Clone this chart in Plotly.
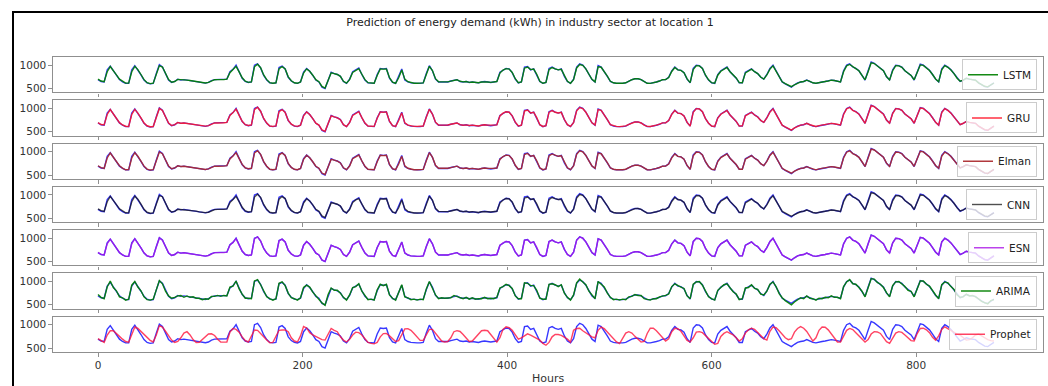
import plotly.graph_objects as go
from plotly.subplots import make_subplots

# sampling grid (hours, every 3 h)
hours = list(range(0, 877, 3))

actual = [
    690, 650, 640, 900, 980, 880, 780, 690,
    640, 610, 610, 900, 990, 900, 790, 680,
    620, 600, 610, 820, 1010, 960, 800, 680,
    630, 650, 700, 680, 690, 680, 670, 660,
    650, 630, 620, 615, 630, 670, 690, 690,
    685, 690, 700, 860, 910, 1000, 850, 720,
    650, 630, 640, 1000, 1030, 940, 780, 680,
    620, 610, 620, 950, 980, 920, 740, 660,
    620, 610, 640, 850, 930, 870, 780, 680,
    640, 530, 500, 700, 850, 820, 800, 760,
    650, 610, 700, 860, 900, 940, 800, 680,
    620, 610, 610, 800, 930, 920, 930, 720,
    630, 610, 750, 920, 680, 640, 620, 610,
    610, 610, 620, 820, 990, 880, 700, 640,
    640, 650, 640, 660, 680, 690, 650, 640,
    650, 630, 640, 630, 620, 640, 650, 640,
    630, 640, 650, 850, 900, 930, 920, 840,
    700, 620, 640, 960, 970, 900, 920, 800,
    650, 610, 630, 930, 960, 920, 900, 920,
    760, 650, 610, 700, 960, 1030, 1000, 920,
    800, 690, 640, 990, 960, 870, 760, 650,
    620, 610, 605, 610, 620, 660, 690, 710,
    710, 690, 640, 610, 610, 620, 640, 660,
    690, 690, 740, 880, 960, 900, 890, 840,
    700, 620, 930, 1000, 990, 930, 780, 680,
    620, 610, 800, 880, 920, 960, 860, 790,
    720, 620, 620, 850, 880, 920, 860, 820,
    740, 700, 800, 930, 1000, 880, 750, 640,
    600, 560, 530, 580, 620, 640, 650, 680,
    650, 620, 610, 630, 640, 650, 660, 680,
    670, 650, 640, 880, 1000, 1030, 960, 930,
    880, 780, 680, 880, 1070, 1040, 990, 930,
    880, 750, 680, 900, 1000, 990, 960, 880,
    820, 780, 680, 850, 1020, 1000, 950, 890,
    800, 700, 640, 920, 1000, 960, 900, 820,
    720, 650, 680, 720, 700, 690, 680, 620,
    580, 540, 530, 580, 620,
]

lstm_pred = [
    700, 660, 645, 860, 970, 890, 790, 700,
    650, 615, 615, 860, 975, 905, 800, 690,
    625, 605, 615, 790, 990, 960, 810, 690,
    635, 650, 695, 685, 690, 680, 672, 662,
    652, 635, 622, 618, 630, 665, 688, 690,
    686, 690, 700, 840, 905, 975, 855, 730,
    655, 632, 642, 965, 1020, 945, 790, 690,
    625, 612, 622, 920, 970, 920, 750, 665,
    622, 612, 640, 830, 920, 870, 785, 690,
    645, 545, 510, 680, 835, 820, 800, 760,
    655, 615, 690, 845, 895, 925, 805, 690,
    625, 612, 612, 780, 920, 915, 920, 730,
    635, 612, 730, 895, 700, 645, 622, 612,
    612, 610, 620, 800, 975, 885, 710, 645,
    640, 650, 642, 658, 678, 688, 655, 642,
    650, 632, 640, 632, 622, 640, 648, 640,
    632, 640, 650, 830, 895, 925, 915, 845,
    710, 625, 640, 935, 960, 905, 915, 805,
    655, 612, 630, 905, 950, 920, 900, 910,
    765, 655, 612, 690, 940, 1015, 995, 920,
    805, 695, 642, 965, 955, 870, 765, 655,
    622, 612, 608, 612, 622, 658, 688, 708,
    708, 690, 645, 612, 610, 620, 640, 660,
    688, 690, 735, 865, 950, 900, 888, 840,
    705, 625, 905, 990, 985, 930, 785, 685,
    625, 612, 785, 870, 915, 950, 860, 790,
    725, 625, 622, 835, 875, 915, 860, 820,
    745, 700, 790, 915, 985, 880, 755, 645,
    605, 565, 540, 580, 618, 640, 650, 678,
    652, 622, 612, 630, 640, 650, 660, 678,
    670, 652, 642, 860, 985, 1015, 960, 925,
    880, 785, 685, 860, 1050, 1035, 985, 925,
    880, 755, 685, 880, 990, 985, 955, 880,
    820, 780, 688, 835, 1005, 995, 945, 885,
    800, 705, 645, 900, 990, 955, 895, 820,
    720, 655, 680, 718, 700, 690, 678, 622,
    585, 548, 535, 578, 618,
]

gru_pred = [
    695, 655, 648, 870, 975, 885, 785, 695,
    645, 618, 612, 870, 980, 900, 795, 688,
    628, 608, 612, 800, 1000, 955, 805, 688,
    632, 652, 698, 682, 688, 678, 670, 660,
    650, 632, 625, 620, 632, 668, 690, 688,
    684, 692, 702, 850, 910, 985, 850, 725,
    652, 635, 645, 975, 1025, 940, 785, 685,
    622, 615, 625, 930, 975, 915, 745, 662,
    625, 615, 642, 840, 925, 868, 782, 685,
    642, 540, 508, 690, 840, 818, 798, 758,
    652, 612, 695, 850, 898, 930, 802, 685,
    622, 615, 615, 790, 925, 918, 925, 725,
    632, 615, 740, 905, 690, 642, 625, 615,
    615, 612, 622, 810, 980, 880, 705, 642,
    642, 648, 645, 660, 680, 688, 652, 640,
    648, 635, 642, 635, 625, 638, 650, 642,
    635, 642, 648, 840, 898, 928, 918, 842,
    705, 622, 642, 945, 965, 902, 918, 802,
    652, 615, 632, 915, 955, 918, 902, 915,
    762, 652, 615, 695, 950, 1020, 998, 918,
    802, 692, 645, 975, 958, 868, 762, 652,
    625, 615, 610, 615, 625, 660, 688, 708,
    710, 688, 642, 615, 612, 622, 642, 662,
    690, 692, 738, 872, 955, 898, 888, 838,
    702, 622, 915, 995, 988, 928, 782, 682,
    622, 615, 792, 875, 918, 955, 858, 788,
    722, 622, 625, 842, 878, 918, 858, 818,
    742, 702, 795, 922, 990, 878, 752, 642,
    602, 562, 535, 582, 620, 642, 652, 680,
    650, 625, 612, 632, 642, 652, 662, 680,
    672, 652, 645, 870, 990, 1020, 958, 928,
    878, 782, 682, 870, 1058, 1038, 988, 928,
    878, 752, 682, 890, 995, 988, 958, 878,
    818, 778, 685, 842, 1010, 998, 948, 888,
    798, 702, 642, 910, 995, 958, 898, 818,
    718, 652, 682, 720, 702, 692, 680, 622,
    582, 545, 532, 580, 620,
]

elman_pred = [
    698, 658, 642, 865, 972, 888, 788, 698,
    648, 612, 614, 865, 978, 902, 798, 690,
    626, 606, 614, 795, 995, 958, 808, 690,
    634, 651, 696, 684, 689, 679, 671, 661,
    651, 634, 623, 619, 631, 666, 689, 689,
    685, 691, 701, 845, 908, 980, 852, 728,
    654, 634, 644, 970, 1022, 942, 788, 688,
    624, 614, 624, 925, 972, 918, 748, 664,
    624, 614, 641, 835, 922, 869, 784, 688,
    644, 542, 509, 685, 838, 819, 799, 759,
    654, 614, 692, 848, 896, 928, 804, 688,
    624, 614, 614, 785, 922, 916, 922, 728,
    634, 614, 735, 900, 695, 644, 624, 614,
    614, 611, 621, 805, 978, 882, 708, 644,
    641, 649, 644, 659, 679, 689, 654, 641,
    649, 634, 641, 634, 624, 639, 649, 641,
    634, 641, 649, 835, 896, 926, 916, 844,
    708, 624, 641, 940, 962, 904, 916, 804,
    654, 614, 631, 910, 952, 919, 901, 912,
    764, 654, 614, 692, 945, 1018, 996, 919,
    804, 694, 644, 970, 956, 869, 764, 654,
    624, 614, 609, 614, 624, 659, 689, 709,
    709, 689, 644, 614, 611, 621, 641, 661,
    689, 691, 736, 868, 952, 899, 889, 839,
    704, 624, 910, 992, 986, 929, 784, 684,
    624, 614, 788, 872, 916, 952, 859, 789,
    724, 624, 624, 838, 876, 916, 859, 819,
    744, 701, 792, 918, 988, 879, 754, 644,
    604, 564, 538, 581, 619, 641, 651, 679,
    651, 624, 611, 631, 641, 651, 661, 679,
    671, 651, 644, 865, 988, 1018, 959, 926,
    879, 784, 684, 865, 1054, 1036, 986, 926,
    879, 754, 684, 885, 992, 986, 956, 879,
    819, 779, 686, 838, 1008, 996, 946, 886,
    799, 704, 644, 905, 992, 956, 896, 819,
    719, 654, 681, 719, 701, 691, 679, 621,
    584, 546, 534, 579, 619,
]

cnn_pred = [
    702, 662, 646, 855, 968, 892, 792, 702,
    652, 618, 616, 855, 972, 908, 802, 692,
    628, 608, 616, 785, 985, 962, 812, 692,
    636, 648, 692, 686, 690, 681, 673, 663,
    653, 636, 624, 620, 629, 662, 686, 691,
    686, 690, 699, 835, 902, 970, 858, 735,
    658, 634, 643, 955, 1015, 948, 795, 692,
    628, 614, 623, 910, 965, 922, 755, 668,
    625, 614, 640, 825, 918, 872, 788, 692,
    648, 550, 515, 675, 830, 822, 801, 762,
    658, 618, 688, 840, 892, 922, 808, 692,
    628, 614, 613, 775, 915, 914, 918, 735,
    638, 614, 725, 890, 705, 648, 624, 614,
    614, 611, 621, 795, 970, 888, 712, 648,
    642, 650, 643, 657, 677, 687, 656, 643,
    651, 633, 641, 633, 623, 639, 648, 641,
    633, 640, 649, 825, 892, 922, 914, 848,
    712, 626, 641, 930, 955, 908, 912, 808,
    658, 614, 630, 900, 945, 921, 902, 908,
    768, 658, 614, 688, 935, 1010, 992, 922,
    808, 698, 644, 960, 952, 872, 768, 658,
    624, 614, 609, 613, 623, 657, 687, 707,
    709, 691, 646, 614, 611, 621, 640, 659,
    687, 690, 732, 860, 945, 902, 888, 842,
    708, 626, 900, 985, 982, 932, 788, 688,
    626, 614, 780, 865, 912, 948, 862, 792,
    728, 626, 623, 830, 872, 912, 862, 822,
    748, 702, 785, 910, 980, 882, 758, 648,
    608, 568, 542, 580, 617, 639, 650, 677,
    653, 624, 613, 630, 640, 650, 660, 677,
    671, 653, 644, 855, 980, 1010, 962, 926,
    882, 788, 688, 855, 1045, 1032, 984, 926,
    882, 758, 688, 875, 985, 982, 954, 882,
    822, 782, 690, 830, 1000, 992, 944, 886,
    802, 708, 648, 895, 985, 952, 894, 822,
    722, 657, 679, 716, 701, 690, 678, 624,
    588, 550, 537, 577, 617,
]

esn_pred = [
    695, 652, 641, 880, 978, 884, 784, 694,
    644, 611, 611, 880, 985, 902, 794, 686,
    623, 603, 611, 805, 1005, 958, 804, 686,
    632, 650, 698, 681, 689, 680, 670, 660,
    650, 631, 621, 616, 630, 668, 690, 690,
    685, 690, 700, 852, 910, 990, 852, 724,
    652, 631, 641, 985, 1028, 942, 784, 684,
    622, 611, 621, 940, 978, 918, 744, 662,
    622, 611, 640, 845, 928, 870, 782, 684,
    642, 535, 504, 695, 845, 820, 800, 760,
    652, 611, 698, 855, 898, 935, 802, 684,
    622, 611, 611, 795, 928, 918, 928, 724,
    632, 611, 745, 912, 685, 642, 621, 611,
    611, 610, 620, 815, 985, 882, 704, 642,
    640, 650, 641, 660, 680, 690, 651, 640,
    650, 631, 640, 631, 621, 640, 650, 640,
    631, 640, 650, 845, 900, 930, 918, 842,
    704, 621, 640, 952, 968, 902, 918, 802,
    652, 611, 630, 922, 958, 920, 900, 918,
    762, 652, 611, 698, 955, 1025, 1000, 920,
    802, 692, 641, 982, 960, 870, 762, 652,
    621, 611, 606, 611, 621, 660, 690, 710,
    710, 690, 641, 611, 610, 620, 640, 660,
    690, 690, 738, 875, 958, 900, 890, 840,
    702, 621, 922, 998, 990, 930, 782, 682,
    621, 611, 795, 878, 920, 958, 860, 790,
    722, 621, 621, 845, 880, 920, 860, 820,
    742, 700, 798, 925, 995, 880, 752, 641,
    601, 561, 532, 580, 620, 640, 650, 680,
    650, 621, 610, 630, 640, 650, 660, 680,
    670, 650, 641, 875, 995, 1025, 960, 930,
    880, 782, 682, 875, 1062, 1040, 990, 930,
    880, 752, 682, 895, 998, 990, 960, 880,
    820, 780, 682, 845, 1015, 1000, 950, 890,
    800, 702, 641, 915, 998, 960, 900, 820,
    720, 651, 680, 720, 700, 690, 680, 620,
    581, 542, 531, 580, 620,
]

arima_pred = [
    720, 660, 630, 880, 1010, 870, 800, 670,
    650, 600, 620, 920, 1000, 880, 800, 670,
    610, 600, 620, 840, 1020, 950, 790, 690,
    640, 660, 690, 700, 660, 690, 660, 670,
    640, 640, 610, 630, 620, 680, 680, 700,
    680, 700, 690, 880, 900, 1010, 840, 730,
    640, 640, 630, 1010, 1040, 930, 790, 670,
    630, 600, 630, 960, 990, 910, 750, 650,
    630, 600, 650, 870, 920, 880, 770, 690,
    630, 540, 490, 720, 860, 810, 810, 750,
    660, 600, 710, 870, 890, 950, 790, 690,
    610, 620, 600, 820, 940, 910, 940, 710,
    640, 600, 770, 930, 670, 650, 610, 620,
    600, 620, 610, 840, 1000, 870, 710, 630,
    650, 640, 650, 650, 700, 680, 660, 630,
    660, 620, 650, 620, 630, 630, 660, 630,
    640, 630, 660, 860, 890, 940, 910, 850,
    690, 630, 630, 970, 960, 910, 910, 810,
    640, 620, 620, 940, 950, 930, 890, 930,
    750, 660, 600, 710, 970, 1050, 990, 930,
    790, 700, 630, 1000, 950, 880, 750, 660,
    610, 620, 600, 620, 610, 670, 680, 720,
    700, 700, 630, 620, 600, 630, 630, 670,
    680, 700, 730, 890, 950, 910, 880, 850,
    690, 630, 940, 990, 1000, 920, 790, 670,
    630, 600, 810, 870, 930, 950, 870, 780,
    730, 610, 630, 860, 870, 930, 850, 830,
    730, 710, 790, 940, 990, 890, 740, 650,
    590, 550, 500, 560, 600, 650, 630, 690,
    640, 630, 600, 640, 630, 660, 650, 690,
    660, 660, 630, 890, 990, 1040, 950, 940,
    870, 790, 670, 890, 1060, 1050, 980, 940,
    870, 760, 670, 910, 990, 1000, 950, 890,
    810, 790, 670, 860, 1010, 1010, 940, 900,
    790, 710, 630, 930, 990, 970, 890, 830,
    710, 660, 670, 730, 690, 700, 670, 630,
    570, 550, 520, 590, 610,
]

prophet_pred = [
    700, 650, 620, 780, 870, 870, 820, 750,
    690, 640, 625, 780, 950, 920, 860, 800,
    730, 665, 630, 780, 980, 950, 860, 760,
    670, 620, 640, 720, 820, 850, 780, 680,
    620, 625, 680, 740, 800, 805, 770, 690,
    627, 627, 630, 840, 920, 900, 840, 740,
    660, 630, 750, 888, 880, 800, 740, 670,
    615, 620, 760, 880, 888, 888, 850, 720,
    650, 630, 760, 960, 930, 830, 780, 750,
    710, 680, 670, 780, 920, 880, 850, 740,
    670, 630, 690, 780, 840, 830, 780, 700,
    620, 600, 590, 620, 739, 810, 813, 760,
    690, 640, 660, 800, 910, 915, 880, 810,
    739, 664, 664, 780, 900, 900, 810, 720,
    650, 627, 640, 720, 850, 873, 855, 790,
    720, 640, 650, 720, 810, 870, 880, 870,
    790, 702, 627, 720, 900, 955, 935, 880,
    790, 690, 720, 770, 805, 776, 740, 702,
    670, 600, 560, 620, 740, 790, 790, 770,
    730, 690, 627, 880, 920, 925, 870, 820,
    790, 740, 720, 880, 950, 915, 845, 776,
    710, 630, 595, 720, 820, 851, 820, 750,
    690, 627, 640, 813, 925, 925, 870, 790,
    720, 650, 700, 850, 925, 915, 860, 770,
    664, 630, 720, 840, 851, 830, 770, 700,
    640, 580, 600, 750, 813, 850, 815, 785,
    720, 650, 700, 820, 890, 925, 900, 840,
    770, 702, 670, 860, 950, 935, 870, 800,
    720, 680, 700, 840, 920, 960, 925, 855,
    745, 650, 720, 880, 950, 945, 890, 800,
    720, 630, 627, 770, 880, 920, 895, 830,
    760, 700, 630, 680, 800, 851, 845, 813,
    710, 635, 600, 700, 820, 851, 835, 780,
    720, 660, 650, 810, 920, 925, 890, 830,
    730, 670, 760, 900, 955, 915, 880, 830,
    800, 776, 720, 670, 680, 720, 780, 800,
    760, 720, 680, 660, 650,
]

model_names = ["LSTM", "GRU", "Elman", "CNN", "ESN", "ARIMA", "Prophet"]
model_preds = [lstm_pred, gru_pred, elman_pred, cnn_pred, esn_pred, arima_pred, prophet_pred]
model_colors = [
    "rgba(0,128,0,0.92)",
    "rgba(255,20,40,0.88)",
    "rgba(170,40,45,0.92)",
    "rgba(20,20,20,0.75)",
    "rgba(170,20,230,0.8)",
    "rgba(0,128,0,0.92)",
    "rgba(255,20,60,0.8)",
]
actual_color = "rgba(20,20,255,0.85)"

x_ticks = [0, 200, 400, 600, 800]
y_ticks = [500, 1000]

W, H = 1048, 386
ML, MR, MT, MB = 53, 5, 57, 34
PW, PH = W - ML - MR, H - MT - MB
gap = 7.8

fig = make_subplots(rows=7, cols=1, shared_xaxes=True, vertical_spacing=gap / PH)

font_family = "DejaVu Sans"
spine = "#8f8f8f"

for i, (name, pred, col) in enumerate(zip(model_names, model_preds, model_colors)):
    row = i + 1
    leg = "legend" if i == 0 else f"legend{i + 1}"
    fig.add_trace(go.Scatter(x=hours, y=actual, mode="lines", line=dict(color=actual_color, width=1.4),
                             showlegend=False, hoverinfo="skip"), row=row, col=1)
    fig.add_trace(go.Scatter(x=hours, y=pred, mode="lines", name=name, line=dict(color=col, width=1.4),
                             legend=leg), row=row, col=1)
    fig.update_xaxes(range=[-44, 924], tickvals=x_ticks, ticks="outside", ticklen=3.5, tickcolor=spine,
                     showline=True, linecolor=spine, linewidth=1.2, mirror=True, showgrid=False, zeroline=False,
                     showticklabels=(row == 7), tickfont=dict(family=font_family, size=10.5, color="#333"),
                     row=row, col=1)
    fig.update_yaxes(range=[415, 1175], tickvals=y_ticks, ticks="outside", ticklen=3.5, tickcolor=spine,
                     showline=True, linecolor=spine, linewidth=1.2, mirror=True, showgrid=False, zeroline=False,
                     tickfont=dict(family=font_family, size=10.5, color="#333"), row=row, col=1)

# one legend per panel, right side
panel_h = (PH - 6 * gap) / 7
legends = {}
for i in range(7):
    top_px = MT + i * (panel_h + gap)
    yc = 1 - (top_px - MT + panel_h / 2) / PH
    key = "legend" if i == 0 else f"legend{i + 1}"
    legends[key] = dict(x=(1037 - ML) / PW, xanchor="right", y=yc, yanchor="middle",
                        bgcolor="rgba(255,255,255,0.8)", bordercolor="#cccccc", borderwidth=1,
                        font=dict(family=font_family, size=10.5, color="#222"), itemwidth=30,
                        tracegroupgap=0)

fig.update_layout(
    width=W, height=H,
    margin=dict(l=ML, r=MR, t=MT, b=MB),
    paper_bgcolor="white", plot_bgcolor="white",
    title=dict(text="Prediction of energy demand (kWh) in industry sector at location 1",
               x=530 / W, xanchor="center", y=1 - 22 / H, yanchor="middle", yref="container",
               font=dict(family=font_family, size=11, color="#222")),
    annotations=[dict(text="Hours", x=0.5, xref="paper", y=-26 / PH, yref="paper",
                      xanchor="center", yanchor="middle", showarrow=False,
                      font=dict(family=font_family, size=11, color="#333"))],
    shapes=[dict(type="rect", xref="paper", yref="paper",
                 x0=(13 - ML) / PW, x1=(1070 - ML) / PW, y0=(MT + PH - 420) / PH, y1=(MT + PH - 12) / PH,
                 line=dict(color="black", width=2), fillcolor="rgba(0,0,0,0)", layer="below")],
    **legends,
)

fig.write_html("out.html")
